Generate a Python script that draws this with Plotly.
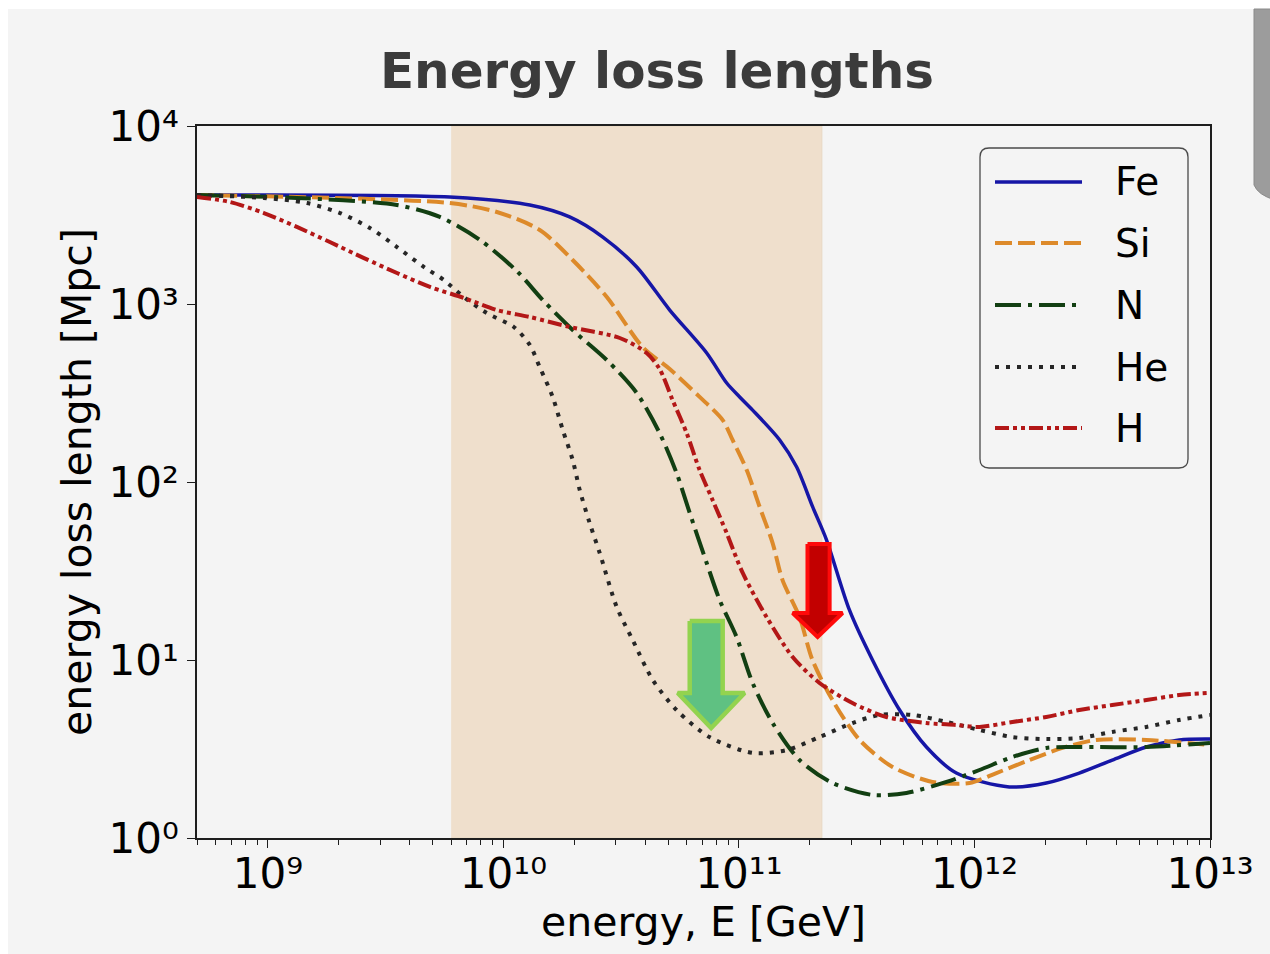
import numpy as np
import plotly.graph_objects as go

# ---- curve data: log10(E / GeV) and log10(loss length / Mpc) ----
fe_log_e = [8.699, 9.772, 10.112, 10.281, 10.422, 10.566, 10.706, 10.863, 10.948, 11.003, 11.058,
            11.173, 11.245, 11.313, 11.372, 11.469, 11.567, 11.682, 11.796, 11.923, 12.148, 12.305,
            12.445, 12.585, 12.730, 12.869, 13.0]
fe_log_len = [3.612, 3.601, 3.556, 3.489, 3.376, 3.208, 2.966, 2.725, 2.556, 2.478, 2.404,
              2.236, 2.084, 1.860, 1.674, 1.281, 1.000, 0.719, 0.511, 0.365, 0.287, 0.309,
              0.365, 0.438, 0.511, 0.551, 0.556]

si_log_e = [8.699, 9.772, 9.972, 10.154, 10.294, 10.439, 10.591, 10.706, 10.833, 10.931, 10.973,
            11.033, 11.088, 11.143, 11.185, 11.257, 11.312, 11.397, 11.512, 11.652, 11.822, 11.979,
            12.093, 12.233, 12.373, 12.517, 12.730, 13.0]
si_log_len = [3.612, 3.567, 3.517, 3.416, 3.247, 3.039, 2.758, 2.635, 2.478, 2.348, 2.236,
              2.067, 1.860, 1.657, 1.449, 1.242, 1.000, 0.775, 0.551, 0.399, 0.315, 0.309,
              0.365, 0.438, 0.506, 0.551, 0.551, 0.522]

n_log_e = [8.699, 9.123, 9.548, 9.730, 9.900, 10.057, 10.167, 10.294, 10.439, 10.566, 10.663,
           10.735, 10.791, 10.863, 10.918, 10.990, 11.058, 11.143, 11.257, 11.397, 11.567, 11.711,
           11.881, 12.021, 12.161, 12.305, 12.445, 12.730, 13.0]
n_log_len = [3.612, 3.596, 3.556, 3.489, 3.360, 3.185, 3.022, 2.854, 2.685, 2.500, 2.275,
             2.051, 1.826, 1.545, 1.337, 1.129, 0.871, 0.646, 0.438, 0.309, 0.242, 0.253,
             0.315, 0.382, 0.455, 0.506, 0.511, 0.511, 0.534]

he_log_e = [8.699, 8.983, 9.166, 9.306, 9.433, 9.548, 9.662, 9.747, 9.832, 9.929, 10.044,
            10.112, 10.154, 10.209, 10.252, 10.294, 10.324, 10.366, 10.409, 10.481, 10.549, 10.634,
            10.735, 10.875, 11.058, 11.202, 11.342, 11.482, 11.597, 11.737, 11.881, 12.021, 12.161,
            12.305, 12.445, 12.585, 12.730, 12.869, 13.0]
he_log_len = [3.612, 3.596, 3.567, 3.511, 3.427, 3.320, 3.208, 3.135, 3.039, 2.949, 2.871,
              2.770, 2.646, 2.478, 2.292, 2.124, 1.955, 1.770, 1.601, 1.298, 1.112, 0.888,
              0.719, 0.567, 0.478, 0.494, 0.567, 0.646, 0.691, 0.691, 0.652, 0.607, 0.567,
              0.556, 0.562, 0.596, 0.624, 0.663, 0.691]

h_log_e = [8.699, 8.839, 8.983, 9.123, 9.263, 9.408, 9.548, 9.688, 9.832, 9.972, 10.112,
           10.281, 10.494, 10.608, 10.663, 10.718, 10.778, 10.833, 10.888, 10.948, 11.016, 11.117,
           11.228, 11.342, 11.482, 11.626, 11.796, 11.923, 12.021, 12.161, 12.305, 12.445, 12.585,
           12.730, 12.869, 13.0]
h_log_len = [3.601, 3.573, 3.511, 3.433, 3.348, 3.258, 3.174, 3.096, 3.034, 2.966, 2.927,
             2.871, 2.809, 2.725, 2.635, 2.461, 2.275, 2.067, 1.899, 1.713, 1.489, 1.242,
             1.017, 0.871, 0.758, 0.680, 0.646, 0.635, 0.624, 0.652, 0.680, 0.719, 0.747,
             0.775, 0.803, 0.815]

species = ["Fe", "Si", "N", "He", "H"]
series = {
    "Fe": (fe_log_e, fe_log_len),
    "Si": (si_log_e, si_log_len),
    "N": (n_log_e, n_log_len),
    "He": (he_log_e, he_log_len),
    "H": (h_log_e, h_log_len),
}

# energy window shaded in the background [GeV]
band_energy = [6.0e9, 2.25e11]

x_tickvals = [1e9, 1e10, 1e11, 1e12, 1e13]
x_ticktext = ["10⁹", "10¹⁰", "10¹¹", "10¹²", "10¹³"]
y_tickvals = [1, 10, 100, 1000, 10000]
y_ticktext = ["10⁰", "10¹", "10²", "10³", "10⁴"]

# ---- styling ----
FONT = "DejaVu Sans"
BG = "#f4f4f4"
styles = {
    "Fe": dict(color="#1616a6", width=3.5, dash="solid"),
    "Si": dict(color="#dd8a2a", width=4, dash="17px,6px"),
    "N": dict(color="#123f12", width=4, dash="26px,7px,4px,7px"),
    "He": dict(color="#262626", width=4, dash="4px,7px"),
    "H": dict(color="#b31717", width=4, dash="14px,4px,4px,4px,4px,4px"),
}

W, H = 1270, 954
ML, MR, MT, MB = 197, 60, 126, 116
PW, PH = W - ML - MR, H - MT - MB


def pxx(x):
    """page pixel column -> paper x"""
    return (x - ML) / PW


def pxy(y):
    """page pixel row -> paper y"""
    return (H - MB - y) / PH


fig = go.Figure()

# shaded energy window
fig.add_trace(go.Scatter(
    x=[band_energy[0], band_energy[1], band_energy[1], band_energy[0]],
    y=[1, 1, 1e4, 1e4],
    fill="toself", fillcolor="#efdfcc", mode="lines",
    line=dict(width=0.8, color="#e6d5bf"),
    hoverinfo="skip", showlegend=False,
))

for name in species:
    le, ll = series[name]
    st = styles[name]
    fig.add_trace(go.Scatter(
        x=10 ** np.array(le), y=10 ** np.array(ll),
        mode="lines", name=name,
        line=dict(color=st["color"], width=st["width"], dash=st["dash"],
                  shape="spline", smoothing=0.8),
        showlegend=False,
    ))

# highlight arrows (log10 E, log10 L outlines)
green_arrow = ([10.791, 10.931, 10.931, 11.024, 10.882, 10.740, 10.791, 10.791],
               [1.219, 1.219, 0.815, 0.815, 0.618, 0.815, 0.815, 1.219])
red_arrow = ([11.291, 11.385, 11.385, 11.440, 11.334, 11.228, 11.291, 11.291],
             [1.652, 1.652, 1.264, 1.264, 1.129, 1.264, 1.264, 1.652])
for (ax_e, ax_l), fill, edge, lw in [
    (green_arrow, "#5fc182", "#93d34f", 4.5),
    (red_arrow, "#c20000", "#ff0a0a", 4),
]:
    fig.add_trace(go.Scatter(
        x=10 ** np.array(ax_e), y=10 ** np.array(ax_l),
        fill="toself", fillcolor=fill, mode="lines",
        line=dict(color=edge, width=lw), hoverinfo="skip", showlegend=False,
    ))

shapes = []
annotations = []

# page border strips and the scrollbar at the right edge
shapes.append(dict(type="rect", xref="paper", yref="paper", layer="below",
                   x0=pxx(-5), x1=pxx(W + 5), y0=pxy(9), y1=pxy(-5),
                   fillcolor="white", line=dict(width=0)))
shapes.append(dict(type="rect", xref="paper", yref="paper", layer="below",
                   x0=pxx(-5), x1=pxx(8), y0=pxy(H + 5), y1=pxy(-5),
                   fillcolor="white", line=dict(width=0)))
x0s, x1s, y0s, y1s = pxx(1254), pxx(1275), pxy(9), pxy(185)
shapes.append(dict(type="path", xref="paper", yref="paper", layer="above",
                   path=f"M{x0s},{y0s} L{x1s},{y0s} L{x1s},{pxy(200)} "
                        f"Q{pxx(1258)},{pxy(195)} {x0s},{y1s} Z",
                   fillcolor="#9c9c9c", line=dict(color="#8a8a8a", width=1)))

# legend frame with rounded corners
lx0, lx1, ly0, ly1, r = 980, 1188, 148, 468, 9
path = (f"M{pxx(lx0 + r)},{pxy(ly0)} L{pxx(lx1 - r)},{pxy(ly0)} "
        f"Q{pxx(lx1)},{pxy(ly0)} {pxx(lx1)},{pxy(ly0 + r)} "
        f"L{pxx(lx1)},{pxy(ly1 - r)} Q{pxx(lx1)},{pxy(ly1)} {pxx(lx1 - r)},{pxy(ly1)} "
        f"L{pxx(lx0 + r)},{pxy(ly1)} Q{pxx(lx0)},{pxy(ly1)} {pxx(lx0)},{pxy(ly1 - r)} "
        f"L{pxx(lx0)},{pxy(ly0 + r)} Q{pxx(lx0)},{pxy(ly0)} {pxx(lx0 + r)},{pxy(ly0)} Z")
shapes.append(dict(type="path", xref="paper", yref="paper", layer="above", path=path,
                   fillcolor=BG, line=dict(color="#4a4a4a", width=1.3)))

row_y = [182, 243, 305, 367, 428]
for name, ry in zip(species, row_y):
    st = styles[name]
    shapes.append(dict(type="line", xref="paper", yref="paper", layer="above",
                       x0=pxx(995), x1=pxx(1082), y0=pxy(ry), y1=pxy(ry),
                       line=dict(color=st["color"], width=st["width"], dash=st["dash"])))
    annotations.append(dict(xref="paper", yref="paper", x=pxx(1113), y=pxy(ry),
                            xanchor="left", yanchor="middle", showarrow=False,
                            text=name, font=dict(family=FONT, size=39, color="black")))

axis_common = dict(
    type="log", showgrid=False, zeroline=False,
    showline=True, linecolor="#1e1e1e", linewidth=1.5, mirror=True,
    ticks="outside", ticklen=8, tickwidth=1.3, tickcolor="#1e1e1e",
    tickfont=dict(family=FONT, size=42, color="black"),
    automargin=False,
)

minor_vals = [m * 10 ** k for k in range(8, 14) for m in range(2, 10)]

fig.update_layout(
    width=W, height=H,
    margin=dict(l=ML, r=MR, t=MT, b=MB, pad=0),
    paper_bgcolor=BG, plot_bgcolor=BG,
    template="none",
    showlegend=False,
    title=dict(text="Energy loss lengths", x=657 / W, xanchor="center",
               y=1 - 70 / H, yanchor="middle",
               font=dict(family=FONT, size=50, color="#3b3b3b", weight="bold")),
    xaxis=dict(**axis_common, range=[np.log10(5e8), 13],
               tickmode="array", tickvals=x_tickvals, ticktext=x_ticktext,
               ticklabelstandoff=-10,
               minor=dict(tickmode="array", tickvals=minor_vals, ticks="outside",
                          ticklen=5, tickwidth=1.1, tickcolor="#1e1e1e", showgrid=False),
               title=dict(text="energy, E [GeV]", standoff=2,
                          font=dict(family=FONT, size=41, color="black"))),
    yaxis=dict(**axis_common, range=[0, 4],
               tickmode="array", tickvals=y_tickvals, ticktext=y_ticktext,
               minor=dict(tickmode="array", tickvals=minor_vals, ticks="outside",
                          ticklen=5, tickwidth=1.1, tickcolor="#1e1e1e", showgrid=False),
               title=dict(text="energy loss length [Mpc]", standoff=4,
                          font=dict(family=FONT, size=41, color="black"))),
    shapes=shapes,
    annotations=annotations,
)

fig.write_html("out.html")
